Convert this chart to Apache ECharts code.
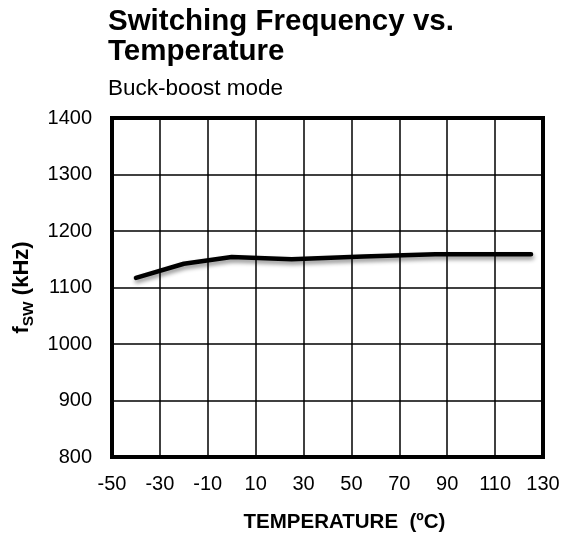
<!DOCTYPE html>
<html>
<head>
<meta charset="utf-8">
<script src="https://cdn.jsdelivr.net/npm/echarts@6/dist/echarts.min.js"></script>
<style>
html, body { margin: 0; padding: 0; background: #fff; }
#chart { width: 571px; height: 536px; }
</style>
</head>
<body>
<div id="chart"></div>
<script>
// values
const temps = [-40, -20, 0, 25, 55, 85, 125]
const freq = [1117, 1142, 1154, 1150, 1155, 1159, 1159]
const xTicks = { min: -50, max: 130, step: 20 }
const yTicks = { min: 800, max: 1400, step: 100 }

const font = '"Liberation Sans", Arial, sans-serif'
const chart = echarts.init(document.getElementById('chart'))

chart.setOption({
  animation: false,
  title: [
    {
      text: 'Switching Frequency vs.\nTemperature',
      left: 103,
      top: 2,
      textStyle: { fontFamily: font, fontSize: 29.5, fontWeight: 'bold', color: '#000', lineHeight: 30 }
    },
    {
      text: 'Buck-boost mode',
      left: 103,
      top: 72,
      textStyle: { fontFamily: font, fontSize: 22.5, fontWeight: 'normal', color: '#000' }
    }
  ],
  grid: {
    left: 112,
    right: 28,
    top: 118,
    bottom: 79,
    outerBoundsMode: 'none',
    show: true,
    borderColor: '#000',
    borderWidth: 4
  },
  xAxis: {
    type: 'value',
    min: xTicks.min,
    max: xTicks.max,
    interval: xTicks.step,
    name: 'TEMPERATURE  (\u00baC)',
    nameLocation: 'middle',
    nameGap: 55,
    nameTextStyle: { fontFamily: font, fontSize: 20.5, fontWeight: 'bold', color: '#000', padding: [0, 0, 0, 34] },
    axisLine: { show: false },
    axisTick: { show: false },
    axisLabel: { fontFamily: font, fontSize: 20, color: '#000', margin: 17 },
    splitLine: { show: true, lineStyle: { color: '#000', width: 1.5 } }
  },
  yAxis: {
    type: 'value',
    min: yTicks.min,
    max: yTicks.max,
    interval: yTicks.step,
    name: '{f|f}{sub|SW}{f| (kHz)}',
    nameLocation: 'middle',
    nameRotate: 90,
    nameGap: 64,
    nameTextStyle: {
      fontFamily: font,
      fontWeight: 'bold',
      color: '#000',
      rich: {
        f: { fontFamily: font, fontSize: 22, fontWeight: 'bold', color: '#000', verticalAlign: 'bottom' },
        sub: { fontFamily: font, fontSize: 15.5, fontWeight: 'bold', color: '#000', verticalAlign: 'bottom', padding: [0, 0, -4, 0] }
      }
    },
    axisLine: { show: false },
    axisTick: { show: false },
    axisLabel: { fontFamily: font, fontSize: 20, color: '#000', margin: 20, formatter: v => String(v) },
    splitLine: { show: true, lineStyle: { color: '#000', width: 1.5 } }
  },
  series: [
    {
      type: 'line',
      data: temps.map((t, i) => [t, freq[i]]),
      showSymbol: false,
      smooth: false,
      lineStyle: {
        color: '#000',
        width: 4.5,
        cap: 'round',
        join: 'round',
        shadowColor: 'rgba(0,0,0,0.45)',
        shadowBlur: 4,
        shadowOffsetX: 1,
        shadowOffsetY: 3
      },
      z: 5
    }
  ]
})
</script>
</body>
</html>
